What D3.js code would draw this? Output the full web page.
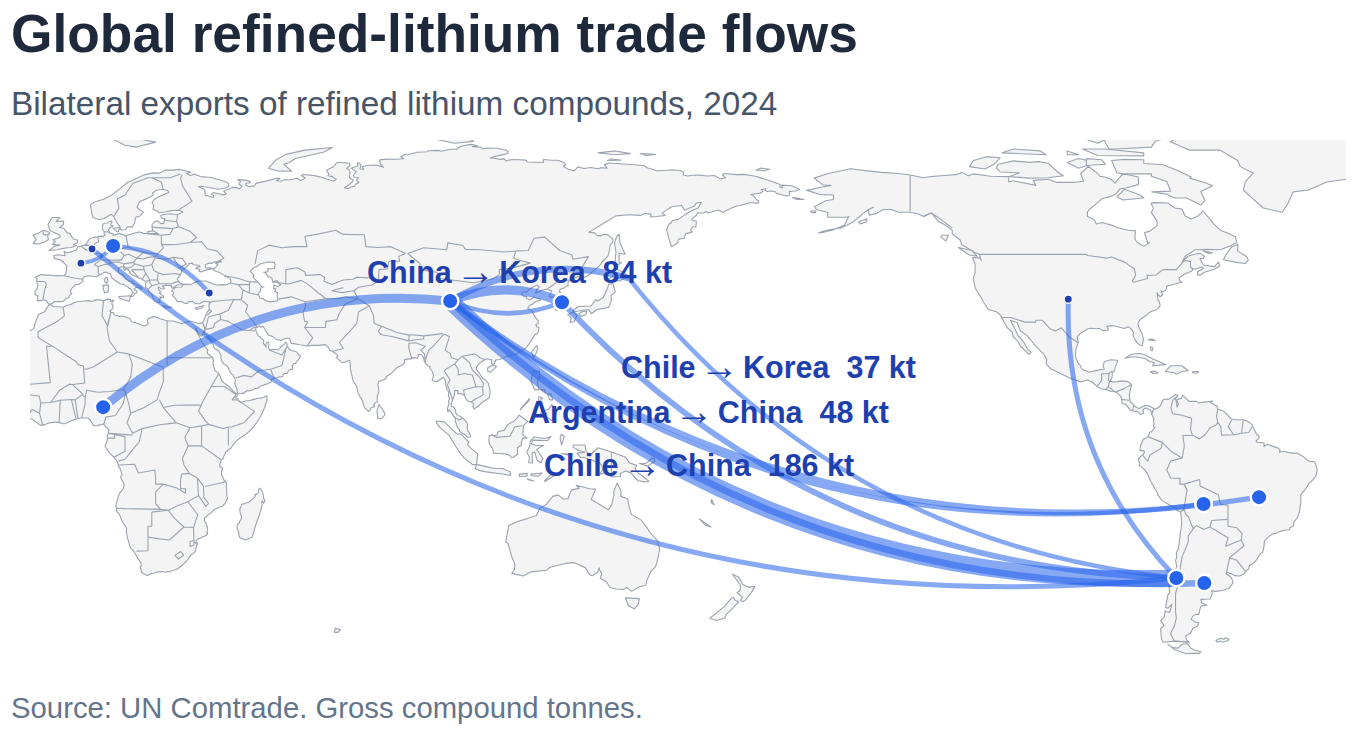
<!DOCTYPE html>
<html>
<head>
<meta charset="utf-8">
<script src="https://cdn.jsdelivr.net/npm/d3@7"></script>
<style>
  html, body { margin: 0; padding: 0; background: #fff; }
  text { font-family: "Liberation Sans", Arial, Helvetica, sans-serif; }
</style>
</head>
<body>
<div id="chart"></div>
<script>
// trade nodes, lon/lat
var nodes = [
  { name: 'Chile', lon: -71.5, lat: -35.5 },
  { name: 'Argentina', lon: -64.2, lat: -36.8 },
  { name: 'Bolivia', lon: -64.4, lat: -16.2 },
  { name: 'Brazil', lon: -49.9, lat: -14.4 },
  { name: 'USA', lon: -99.7, lat: 37.3 },
  { name: 'China', lon: 98.9, lat: 36.8 },
  { name: 'Korea', lon: 128.1, lat: 36.5 },
  { name: 'Japan', lon: 145.5, lat: 42.8 },
  { name: 'Nigeria', lon: 8.3, lat: 9.1 },
  { name: 'Germany', lon: 10.9, lat: 51.2 },
  { name: 'Belgium', lon: 5.4, lat: 50.4 },
  { name: 'France', lon: 2.5, lat: 46.7 },
  { name: 'Turkey', lon: 36, lat: 38.9 }
];

// kt, only the four labelled ones are printed in the picture
var flows = [
  ['Chile', 'China', 186],
  ['China', 'Korea', 84],
  ['Nigeria', 'China', 80],
  ['Argentina', 'China', 48],
  ['Chile', 'Korea', 37],
  ['China', 'Japan', 47],
  ['Brazil', 'China', 33],
  ['Chile', 'USA', 27],
  ['Bolivia', 'China', 20],
  ['Chile', 'Belgium', 27],
  ['Germany', 'Turkey', 20],
  ['Korea', 'China', 20],
  ['Chile', 'Japan', 20],
  ['Germany', 'France', 13]
];

var labelledFlows = ['China-Korea', 'Chile-Korea', 'Argentina-China', 'Chile-China'];

var titleText = 'Global refined-lithium trade flows';
var subtitleText = 'Bilateral exports of refined lithium compounds, 2024';
var sourceText = 'Source: UN Comtrade. Gross compound tonnes.';

// coastlines, lon/lat, hand simplified
var africa = [[-5.9,35.8],[-5.2,35.8],[-4.6,35.3],[-3,35.3],[-2.2,35.2],[-1.2,35.7],[-0.1,35.9],[0.5,36.3],[1.5,36.6],[3.2,36.8],[4.8,36.9],[5.3,36.7],[6.3,37.1],[7.3,37.1],[8.4,36.9],[9.5,37.3],[10.2,37.2],[10.2,36.7],[11,37.1],[11.1,36.9],[10.6,36.4],[10.6,35.9],[10.9,35.7],[10.8,34.8],[10.1,34.3],[10.3,33.8],[10.9,33.8],[11.1,33.3],[11.5,33.1],[12.7,32.8],[13.3,32.9],[15.2,32.3],[15.7,31.4],[17.5,30.9],[19,30.3],[19.6,30.5],[20.1,31],[19.8,31.8],[20.1,32.2],[21.5,32.8],[23.2,32.2],[25.2,31.6],[26.5,31.6],[28.9,30.9],[29.7,31.2],[30.9,31.6],[32.3,31.26],[33,31.02],[33.77,30.97],[34.27,31.22],[34.92,29.5],[34.64,29.1],[34.43,28.34],[34.15,27.82],[33.92,27.65],[33.59,27.97],[33.14,28.42],[32.42,29.85],[32.32,29.76],[32.73,28.71],[33.35,27.7],[34.1,26.14],[34.47,25.6],[34.8,25.03],[35.69,23.93],[35.49,23.81],[35.53,23.1],[36.69,22.2],[36.87,22],[37.19,21.02],[36.97,20.84],[37.11,19.81],[37.48,18.61],[37.86,18.37],[38.41,17.99],[38.99,16.84],[39.27,15.92],[39.81,15.44],[41.18,14.49],[42.59,13],[43.08,12.7],[43.32,12.39],[43.29,11.97],[42.72,11.74],[43.15,11.46],[43.47,11.28],[43.67,10.86],[44.12,10.45],[44.61,10.44],[45.56,10.7],[46.65,10.82],[47.53,11.13],[48.02,11.19],[48.38,11.38],[48.95,11.41],[49.27,11.43],[49.73,11.58],[50.26,11.68],[50.73,12.02],[51.11,12.02],[51.13,11.75],[51.04,11.17],[51.05,10.64],[50.83,10.28],[50.55,9.2],[50.07,8.08],[49.45,6.8],[48.59,5.34],[47.74,4.22],[46.56,2.86],[45.56,2.05],[44.07,1.05],[43.14,0.29],[42.04,-0.92],[41.81,-1.45],[41.59,-1.68],[40.88,-2.08],[40.64,-2.5],[40.26,-2.57],[40.12,-3.28],[39.8,-3.68],[39.6,-4.35],[39.2,-4.68],[38.74,-5.91],[38.8,-6.48],[39.44,-6.84],[39.47,-7.1],[39.19,-7.7],[39.25,-8.01],[39.19,-8.49],[39.54,-9.11],[39.95,-10.1],[40.32,-10.32],[40.48,-10.77],[40.44,-11.76],[40.56,-12.64],[40.6,-14.2],[40.78,-14.69],[40.48,-15.41],[40.09,-16.1],[39.45,-16.72],[38.54,-17.1],[37.41,-17.59],[36.28,-18.66],[35.9,-18.84],[35.2,-19.55],[34.79,-19.78],[34.7,-20.5],[35.18,-21.25],[35.37,-21.84],[35.39,-22.14],[35.56,-22.09],[35.53,-23.07],[35.37,-23.54],[35.61,-23.71],[35.46,-24.12],[35.04,-24.48],[34.22,-24.82],[33.01,-25.36],[32.57,-25.73],[32.66,-26.15],[32.92,-26.22],[32.83,-26.74],[32.58,-27.47],[32.46,-28.3],[32.2,-28.75],[31.33,-29.4],[30.9,-29.91],[30.62,-30.42],[30.06,-31.14],[28.93,-32.17],[28.22,-32.77],[27.46,-33.23],[26.42,-33.61],[25.91,-33.67],[25.78,-33.94],[25.17,-33.8],[24.68,-33.99],[23.59,-33.79],[22.99,-33.92],[22.57,-33.86],[21.54,-34.26],[20.69,-34.42],[20.07,-34.8],[19.62,-34.82],[19.19,-34.46],[18.86,-34.44],[18.42,-33.99],[18.38,-34.14],[18.24,-33.87],[18.25,-33.28],[17.93,-32.61],[18.25,-32.43],[18.22,-31.66],[17.57,-30.73],[17.06,-29.88],[16.34,-28.58],[15.6,-27.82],[15.21,-27.09],[14.99,-26.12],[14.74,-25.39],[14.41,-23.85],[14.39,-22.66],[14.26,-22.11],[13.87,-21.7],[13.35,-20.87],[12.83,-19.67],[12.61,-19.05],[11.79,-18.07],[11.73,-17.3],[11.64,-16.67],[11.78,-15.79],[12.12,-14.88],[12.18,-14.45],[12.5,-13.55],[12.74,-13.14],[13.31,-12.48],[13.63,-12.04],[13.74,-11.3],[13.69,-10.73],[13.39,-10.37],[13.12,-9.77],[12.88,-9.17],[12.93,-8.96],[13.24,-8.56],[12.93,-7.6],[12.73,-6.93],[12.23,-6.29],[12.32,-6.1],[12.18,-5.79],[11.91,-5.04],[11.09,-3.98],[10.07,-2.97],[9.41,-2.14],[8.8,-1.11],[8.83,-0.78],[9.05,-0.46],[9.29,0.27],[9.49,1.01],[9.31,1.16],[9.65,2.28],[9.8,3.07],[9.4,3.73],[8.95,3.9],[8.74,4.35],[8.49,4.5],[8.5,4.77],[7.46,4.41],[7.08,4.46],[6.7,4.24],[5.9,4.26],[5.36,4.89],[5.03,5.61],[4.33,6.27],[3.57,6.26],[2.69,6.26],[1.87,6.14],[1.06,5.93],[-0.51,5.34],[-1.06,5],[-1.96,4.71],[-2.86,5],[-4.01,5.18],[-4.65,5.17],[-5.83,4.99],[-6.53,4.71],[-7.52,4.34],[-7.97,4.36],[-9,5],[-10,5.8],[-10.77,6.14],[-11.44,6.79],[-12.43,7.26],[-13.12,8.16],[-13.25,8.9],[-14,9.9],[-14.6,10.5],[-15.13,11.04],[-16.1,11.5],[-16.6,12.2],[-16.84,13.15],[-17.5,14.7],[-16.5,16.1],[-16.3,17.2],[-16,18.5],[-16.3,19.1],[-17,21],[-16,23.7],[-14.5,26.2],[-13.1,27.6],[-11.4,28.8],[-9.8,29.6],[-9.5,30.9],[-8.6,33.3],[-6.9,34.1]];
var madagascar = [[49.54,-12.47],[49.81,-12.9],[50.06,-13.56],[50.22,-14.76],[50.48,-15.23],[50.38,-15.71],[50.2,-16],[49.86,-15.41],[49.67,-15.71],[49.86,-16.45],[49.61,-17.1],[49.44,-17.95],[49.04,-19.12],[48.55,-20.5],[47.93,-22.39],[47.55,-23.78],[47.1,-24.94],[46.28,-25.18],[45.41,-25.6],[44.83,-25.35],[44.04,-24.99],[43.76,-24.46],[43.7,-23.57],[43.35,-22.78],[43.25,-22.06],[43.43,-21.34],[43.89,-21.16],[43.9,-20.83],[44.37,-20.07],[44.46,-19.44],[44.23,-19],[44.04,-18.33],[43.96,-17.41],[44.31,-16.85],[44.45,-16.22],[44.94,-16.18],[45.5,-15.97],[45.87,-15.79],[46.31,-15.78],[46.88,-15.21],[47.71,-14.59],[48.01,-14.09],[47.87,-13.66],[48.29,-13.78],[48.85,-13.09],[48.86,-12.49],[49.19,-12.04]];
var eurasia = [[34.27,31.22],[34.55,31.55],[34.96,32.83],[35.1,33.1],[35.48,33.9],[36,34.64],[35.9,35.41],[35.99,35.98],[36.15,36.65],[35.55,36.57],[34.71,36.8],[33.51,36.11],[32.51,36.11],[31.7,36.64],[30.62,36.68],[30.39,36.26],[29.7,36.14],[28.73,36.68],[27.64,36.66],[27.05,37.65],[26.32,38.21],[26.8,38.99],[26.17,39.46],[27.28,40.42],[28.82,40.46],[29.24,41.22],[31.15,41.09],[32.35,41.74],[33.51,42.02],[35.17,42.04],[36.91,41.34],[38.35,40.95],[39.51,41.1],[40.37,41.01],[41.55,41.54],[41.7,41.96],[41.45,42.65],[40.88,43.01],[40.32,43.13],[39.96,43.43],[38.68,44.28],[37.54,44.66],[36.68,45.24],[37.4,45.4],[38.23,46.24],[37.67,46.64],[39.15,47.04],[39.12,47.26],[38.22,47.1],[37.43,47.02],[36.76,46.7],[35.82,46.65],[34.96,46.27],[35.02,45.65],[35.51,45.41],[36.53,45.47],[36.33,45.11],[35.24,44.94],[33.88,44.36],[33.33,44.56],[33.55,45.03],[32.45,45.33],[32.63,45.52],[33.59,45.85],[33.3,46.08],[31.74,46.33],[31.68,46.71],[30.75,46.58],[30.38,46.03],[29.6,45.29],[29.63,45.04],[28.84,44.91],[28.56,43.71],[27.67,42.58],[27.99,42.01],[28.12,41.62],[28.99,41.3],[28.81,41.05],[27.62,41],[27.19,40.69],[26.36,40.15],[26.04,40.62],[26.06,40.82],[25.45,40.85],[24.93,40.95],[23.71,40.69],[24.41,40.12],[23.9,39.96],[23.34,39.96],[22.81,40.48],[22.63,40.26],[22.85,39.66],[23.35,39.19],[22.97,38.97],[23.53,38.51],[24.03,38.22],[24.04,37.66],[23.12,37.92],[23.41,37.41],[22.77,37.31],[23.15,36.42],[22.49,36.41],[21.67,36.84],[21.3,37.64],[21.12,38.31],[20.73,38.77],[20.22,39.34],[20.15,39.62],[19.98,39.69],[19.96,40.03],[19.41,40.25],[19.32,40.73],[19.41,41.41],[19.54,41.72],[19.37,41.88],[18.45,42.48],[17.51,42.85],[16.93,43.21],[16.02,43.51],[15.17,44.24],[15.38,44.32],[14.92,44.74],[14.9,45.08],[14.26,45.23],[13.95,44.8],[13.66,45.14],[13.68,45.48],[13.72,45.5],[13.94,45.59],[13.14,45.74],[12.33,45.38],[12.26,44.6],[12.59,44.09],[13.53,43.59],[14.03,42.76],[15.14,41.96],[15.93,41.96],[16.17,41.74],[15.89,41.54],[16.79,41.18],[17.52,40.88],[18.38,40.36],[18.48,40.17],[18.29,39.81],[17.74,40.28],[16.87,40.44],[16.45,39.8],[17.17,39.42],[17.05,38.9],[16.64,38.84],[16.1,37.99],[15.68,37.91],[15.69,38.21],[15.89,38.75],[16.11,38.96],[15.72,39.54],[15.41,40.05],[14.99,40.17],[14.7,40.6],[14.06,40.79],[13.63,41.19],[12.89,41.25],[12.11,41.7],[11.19,42.36],[10.51,42.93],[10.2,43.92],[9.7,44.04],[8.89,44.37],[8.43,44.23],[7.85,43.77],[7.44,43.69],[6.53,43.13],[4.56,43.4],[3.1,43.08],[2.99,42.47],[3.04,41.89],[2.09,41.23],[0.81,41.01],[0.72,40.68],[0.11,40.12],[-0.28,39.31],[0.11,38.74],[-0.47,38.29],[-0.68,37.64],[-1.44,37.44],[-2.15,36.67],[-3.42,36.66],[-4.37,36.68],[-5.38,35.95],[-5.87,36.03],[-6.24,36.37],[-6.52,36.94],[-7.45,37.1],[-7.86,36.84],[-8.38,36.98],[-8.9,36.87],[-8.75,37.65],[-8.84,38.27],[-9.29,38.36],[-9.53,38.74],[-9.45,39.39],[-9.05,39.76],[-8.98,40.16],[-8.77,40.76],[-8.79,41.18],[-8.99,41.54],[-9.03,41.88],[-8.98,42.59],[-9.39,43.03],[-7.98,43.75],[-6.75,43.57],[-5.41,43.57],[-4.35,43.4],[-3.52,43.46],[-1.9,43.42],[-1.38,44.02],[-1.19,46.01],[-2.23,47.06],[-2.96,47.57],[-4.49,47.95],[-4.59,48.68],[-3.3,48.9],[-1.62,48.64],[-1.93,49.78],[-0.99,49.35],[1.34,50.13],[1.64,50.95],[2.51,51.15],[3.31,51.35],[3.83,51.62],[4.71,53.09],[6.07,53.51],[6.91,53.48],[7.1,53.69],[7.94,53.75],[8.12,53.53],[8.8,54.02],[8.57,54.4],[8.53,54.96],[8.12,55.52],[8.09,56.54],[8.26,56.81],[8.54,57.11],[9.42,57.17],[9.94,57.59],[10.58,57.73],[10.55,57.22],[10.25,56.89],[10.37,56.61],[10.91,56.46],[10.67,56.08],[10.37,56.19],[9.65,55.47],[9.92,54.98],[9.94,54.6],[10.95,54.36],[10.94,54.01],[11.96,54.2],[12.52,54.47],[13.65,54.08],[14.12,53.76],[14.8,54.05],[16.36,54.51],[17.62,54.85],[18.62,54.68],[18.7,54.44],[19.66,54.43],[19.89,54.87],[21.27,55.19],[21.06,56.03],[21.09,56.78],[21.58,57.41],[22.52,57.75],[23.32,57.01],[24.12,57.03],[24.31,57.79],[24.43,58.38],[24.06,58.26],[23.43,58.61],[23.34,59.19],[24.6,59.47],[25.86,59.61],[26.95,59.45],[27.98,59.48],[29.12,60.03],[28.07,60.5],[26.26,60.42],[24.5,60.06],[22.87,59.85],[22.29,60.39],[21.32,60.72],[21.54,61.71],[21.06,62.61],[21.54,63.19],[22.44,63.82],[24.73,64.9],[25.4,65.11],[25.29,65.53],[23.9,66.01],[22.18,65.72],[21.21,65.03],[21.37,64.41],[19.78,63.61],[17.85,62.75],[17.12,61.34],[17.83,60.64],[18.79,60.08],[17.87,58.95],[16.83,58.72],[16.45,57.04],[15.88,56.1],[14.67,56.2],[14.1,55.41],[12.94,55.36],[12.63,56.31],[11.79,57.44],[11.03,58.86],[10.36,59.47],[8.38,58.31],[7.05,58.08],[5.67,58.59],[5.31,59.66],[4.99,61.97],[5.91,62.61],[8.55,63.45],[10.53,64.49],[12.36,65.88],[14.76,67.81],[16.44,68.56],[19.18,69.82],[21.38,70.26],[23.02,70.2],[24.55,71.03],[26.37,70.99],[28.17,71.19],[31.29,70.45],[30,70.19],[31.1,69.56],[32.13,69.91],[33.78,69.3],[36.51,69.06],[40.29,67.93],[41.06,67.46],[41.13,66.79],[40.02,66.27],[38.38,66],[33.92,66.76],[33.18,66.63],[34.81,65.9],[34.88,65.44],[34.94,64.41],[36.23,64.11],[37.01,63.85],[37.14,64.33],[36.54,64.76],[37.18,65.14],[39.59,64.52],[40.44,64.76],[39.76,65.5],[42.09,66.48],[43.02,66.42],[43.95,66.07],[44.53,66.76],[43.7,67.35],[44.19,67.95],[43.45,68.57],[46.25,68.25],[46.82,67.69],[45.56,67.57],[45.56,67.01],[46.35,66.67],[47.89,66.88],[48.14,67.52],[50.23,67.99],[53.72,68.86],[54.47,68.81],[53.49,68.2],[54.73,68.1],[55.44,68.44],[57.32,68.47],[58.8,68.88],[59.94,68.28],[61.08,68.94],[60.03,69.52],[60.55,69.85],[63.5,69.55],[64.89,69.23],[68.51,68.09],[69.18,68.62],[68.16,69.14],[68.14,69.36],[66.93,69.45],[67.26,69.93],[66.72,70.71],[66.69,71.03],[68.54,71.93],[69.2,72.84],[69.94,73.04],[72.59,72.78],[72.8,72.22],[71.85,71.41],[72.47,71.09],[72.79,70.39],[72.56,69.02],[73.67,68.41],[73.24,67.74],[71.28,66.32],[72.42,66.17],[72.82,66.53],[73.92,66.79],[74.19,67.28],[75.05,67.76],[74.47,68.33],[74.94,68.99],[73.84,69.07],[73.6,69.63],[74.4,70.63],[73.1,71.45],[74.89,72.12],[74.66,72.83],[75.16,72.85],[75.68,72.3],[75.29,71.34],[76.36,71.15],[75.9,71.87],[77.58,72.27],[79.65,72.32],[81.5,71.75],[80.61,72.58],[80.51,73.65],[82.25,73.85],[84.66,73.81],[86.82,73.94],[86.01,74.46],[87.17,75.12],[88.32,75.14],[90.26,75.64],[92.9,75.77],[93.23,76.05],[95.86,76.14],[96.68,75.92],[98.92,76.45],[100.76,76.43],[101.04,76.86],[101.99,77.29],[104.35,77.7],[106.07,77.37],[104.71,77.13],[106.97,76.97],[107.24,76.48],[108.15,76.72],[111.08,76.71],[113.33,76.22],[114.13,75.85],[113.89,75.33],[112.78,75.03],[110.15,74.48],[109.4,74.18],[110.64,74.04],[112.12,73.79],[113.02,73.98],[113.53,73.34],[113.97,73.59],[115.57,73.75],[118.78,73.59],[119.02,73.12],[123.2,72.97],[123.26,73.74],[125.38,73.56],[126.98,73.57],[128.59,73.04],[129.05,72.4],[128.46,71.98],[129.72,71.19],[131.29,70.79],[132.25,71.84],[133.86,71.39],[135.56,71.66],[137.5,71.35],[138.23,71.63],[139.87,71.49],[139.15,72.42],[140.47,72.85],[145,72.5],[149.5,72.2],[150.35,71.61],[152.97,70.84],[157.01,71.03],[158.99,70.87],[159.83,70.45],[159.71,69.72],[160.94,69.44],[162.28,69.64],[164.05,69.67],[165.94,69.47],[167.84,69.58],[169.58,68.69],[170.82,69.01],[170.01,69.65],[170.45,70.1],[173.64,69.82],[175.72,69.88],[178.6,69.4],[180,68.96],[-177.6,68.2],[-174.93,67.21],[-175.01,66.58],[-174.34,66.34],[-174.57,67.06],[-171.86,66.91],[-169.9,65.98],[-170.89,65.54],[-172.53,65.44],[-172.56,64.46],[-172.96,64.25],[-173.89,64.28],[-174.65,64.63],[-175.98,64.92],[-176.21,65.36],[-177.22,65.52],[-178.36,65.39],[-178.9,65.74],[-178.69,66.11],[-179.88,65.87],[-179.43,65.4],[-180,64.98],[177.41,64.61],[178.31,64.08],[178.91,63.25],[179.37,62.98],[179.49,62.57],[179.23,62.3],[177.36,62.52],[174.57,61.77],[173.68,61.65],[172.15,60.95],[170.7,60.34],[170.33,59.88],[168.9,60.57],[166.3,59.79],[165.84,60.16],[164.88,59.73],[163.54,59.87],[163.22,59.21],[162.02,58.24],[162.05,57.84],[163.19,57.62],[163.06,56.16],[162.13,56.12],[161.7,55.29],[162.12,54.86],[160.37,54.34],[160.02,53.2],[158.53,52.96],[158.23,51.94],[156.79,51.01],[156.42,51.7],[155.99,53.16],[155.43,55.38],[155.91,56.77],[156.76,57.36],[156.81,57.83],[158.36,58.06],[160.15,59.31],[161.87,60.34],[163.67,61.14],[164.47,62.55],[163.26,62.47],[162.66,61.64],[160.12,60.54],[159.3,61.77],[156.72,61.43],[154.22,59.76],[155.04,59.14],[152.81,58.88],[151.27,58.78],[151.34,59.5],[149.78,59.66],[148.54,59.16],[145.49,59.34],[142.2,59.04],[138.96,57.09],[135.13,54.73],[136.7,54.6],[137.19,53.98],[138.16,53.75],[138.8,54.25],[139.9,54.19],[141.35,53.09],[141.38,52.24],[140.6,51.24],[140.51,50.05],[140.06,48.45],[138.55,47],[138.22,46.31],[136.86,45.14],[135.52,43.99],[134.87,43.4],[133.54,42.81],[132.91,42.8],[132.28,43.28],[130.94,42.55],[130.64,42.4],[129.99,42],[129.67,41.6],[129.71,40.88],[129.19,40.66],[129.01,40.49],[128.63,40.19],[127.97,40],[127.53,39.76],[127.5,39.32],[127.39,39.21],[127.78,39.05],[128.35,38.61],[129.21,37.43],[129.46,36.78],[129.47,35.63],[129.09,35.08],[128.19,34.89],[127.39,34.48],[126.49,34.39],[126.37,34.93],[126.56,35.68],[126.12,36.73],[126.86,36.89],[126.17,37.75],[125.69,37.94],[125.28,37.67],[124.98,37.95],[124.71,38.11],[125.22,38.67],[125.13,38.85],[125.39,39.39],[125.32,39.55],[124.74,39.66],[124.27,39.93],[122.87,39.64],[122.13,39.17],[121.05,38.9],[121.59,39.36],[121.38,39.75],[122.17,40.42],[121.64,40.95],[120.77,40.59],[119.64,39.9],[119.02,39.25],[118.04,39.2],[117.53,38.74],[118.06,38.06],[118.88,37.9],[118.91,37.45],[119.7,37.16],[120.82,37.87],[121.71,37.48],[122.36,37.45],[122.52,36.93],[121.1,36.65],[120.64,36.11],[119.66,35.61],[119.15,34.91],[120.23,34.36],[120.62,33.38],[121.23,32.46],[121.91,31.69],[121.89,30.95],[121.26,30.68],[121.5,30.14],[122.09,29.83],[121.94,29.02],[121.68,28.23],[121.13,28.14],[120.4,27.05],[119.59,25.74],[118.66,24.55],[117.28,23.62],[115.89,22.78],[114.76,22.67],[114.15,22.22],[113.81,22.55],[113.24,22.05],[111.84,21.55],[110.79,21.4],[110.44,20.34],[109.89,20.28],[109.63,21.01],[109.86,21.4],[108.52,21.72],[108.05,21.55],[106.72,20.7],[105.88,19.75],[105.66,19.06],[106.5,18],[107.36,16.7],[108.27,16.08],[108.88,15.28],[109.34,13.43],[109.2,11.67],[108.37,11.01],[107.22,10.36],[106.41,9.53],[105.16,8.6],[104.8,9.24],[105.08,9.92],[104.33,10.49],[103.5,10.63],[103.09,11.15],[102.59,12.19],[101.69,12.65],[100.83,12.63],[100.98,13.41],[100.1,13.41],[100.02,12.31],[99.48,10.85],[99.15,9.96],[99.22,9.24],[99.87,9.21],[100.28,8.3],[100.46,7.43],[101.02,6.86],[101.62,6.74],[102.14,6.22],[102.37,6.13],[102.96,5.52],[103.38,4.85],[103.44,4.18],[103.33,3.73],[103.43,3.38],[103.5,2.79],[103.86,2.52],[104.25,1.63],[104.23,1.29],[103.52,1.23],[102.57,1.97],[101.39,2.76],[101.27,3.27],[100.69,3.94],[100.56,4.77],[100.2,5.31],[100.31,6.04],[100.09,6.46],[99.69,6.85],[99.52,7.34],[98.99,7.91],[98.5,8.38],[98.34,7.79],[98.15,8.35],[98.26,8.97],[98.55,9.93],[98.46,10.68],[98.76,11.44],[98.43,12.03],[98.51,13.12],[98.1,13.64],[97.78,14.84],[97.6,16.1],[97.16,16.93],[96.51,16.43],[95.37,15.71],[94.81,15.8],[94.19,16.04],[94.53,17.28],[94.32,18.21],[93.54,19.37],[93.66,19.73],[93.08,19.86],[92.37,20.67],[92.08,21.19],[92.03,21.7],[91.83,22.18],[91.42,22.77],[90.5,22.81],[90.59,22.39],[90.27,21.84],[89.85,22.04],[89.7,21.86],[89.42,21.97],[89.03,22.06],[88.89,21.69],[88.21,21.7],[86.98,21.5],[87.03,20.74],[86.5,20.15],[85.06,19.48],[83.94,18.3],[83.19,17.67],[82.19,17.02],[82.19,16.56],[81.69,16.31],[80.79,15.95],[80.32,15.9],[80.03,15.14],[80.23,13.84],[80.29,13.01],[79.86,12.06],[79.86,10.36],[79.34,10.31],[78.89,9.55],[79.19,9.22],[78.28,8.93],[77.94,8.25],[77.54,7.97],[76.59,8.9],[76.13,10.3],[75.75,11.31],[75.4,11.78],[74.86,12.74],[74.62,13.99],[74.44,14.62],[73.53,15.99],[73.12,17.93],[72.82,19.21],[72.82,20.42],[72.63,21.36],[71.18,20.76],[70.47,20.88],[69.16,22.09],[69.64,22.45],[69.35,22.84],[68.18,23.69],[67.44,23.94],[67.15,24.66],[66.37,25.43],[64.53,25.24],[62.91,25.22],[61.5,25.08],[59.62,25.38],[58.53,25.61],[57.4,25.74],[56.97,26.97],[56.49,27.14],[55.72,26.96],[54.72,26.48],[53.49,26.81],[52.48,27.58],[51.52,27.87],[50.85,28.81],[50.12,30.15],[49.58,29.99],[48.94,30.32],[48.57,29.93],[47.97,29.98],[48.18,29.53],[48.09,29.31],[48.42,28.55],[48.81,27.69],[49.3,27.46],[49.47,27.11],[50.15,26.69],[50.21,26.28],[50.11,25.94],[50.24,25.61],[50.53,25.33],[50.81,24.75],[50.74,25.48],[51.01,26.01],[51.29,26.11],[51.59,25.8],[51.61,25.22],[51.39,24.63],[51.58,24.25],[51.76,24.29],[51.79,24.02],[52.58,24.18],[53.4,24.15],[54.01,24.12],[54.69,24.8],[55.44,25.44],[56.07,26.06],[56.26,25.71],[56.4,24.92],[56.85,24.24],[57.4,23.88],[58.14,23.75],[58.73,23.57],[59.18,22.99],[59.45,22.66],[59.81,22.53],[59.81,22.31],[59.44,21.71],[59.28,21.43],[58.86,21.11],[58.49,20.43],[58.03,20.48],[57.83,20.24],[57.67,19.74],[57.79,19.07],[57.69,18.94],[57.23,18.95],[56.61,18.57],[56.51,18.09],[56.28,17.88],[55.66,17.88],[55.27,17.63],[55.27,17.23],[54.79,16.95],[54.24,17.04],[53.57,16.71],[53.11,16.65],[52.39,16.38],[52.19,15.94],[52.17,15.6],[51.17,15.18],[49.57,14.71],[48.68,14],[48.24,13.95],[47.94,14.01],[47.35,13.59],[46.72,13.4],[45.88,13.35],[45.63,13.29],[45.41,13.03],[45.14,12.95],[44.99,12.7],[44.49,12.72],[44.18,12.59],[43.48,12.64],[43.22,13.22],[43.25,13.77],[43.09,14.06],[42.89,14.8],[42.6,15.21],[42.81,15.26],[42.7,15.72],[42.82,15.91],[42.78,16.35],[42.65,16.77],[42.35,17.08],[42.27,17.47],[41.75,17.83],[41.22,18.67],[40.94,19.49],[40.25,20.17],[39.8,20.34],[39.14,21.29],[39.02,21.99],[39.07,22.58],[38.49,23.69],[38.02,24.08],[37.48,24.29],[37.15,24.86],[37.21,25.08],[36.93,25.6],[36.64,25.83],[36.25,26.57],[35.64,27.38],[35.13,28.06],[34.63,28.06],[34.79,28.61],[34.83,28.96],[34.96,29.36],[34.92,29.5]];
var northAmerica = [[-77.35,8.67],[-78.2,9.25],[-79.57,9.61],[-80.93,8.86],[-81.44,8.79],[-82.19,9.21],[-82.56,9.57],[-83.41,10.4],[-83.67,10.94],[-83.65,11.63],[-83.81,12],[-83.52,13.57],[-83.15,14.99],[-83.41,15.27],[-84.37,15.84],[-85.68,15.95],[-86.9,15.76],[-88.12,15.69],[-88.93,15.89],[-88.36,16.53],[-88.21,17.49],[-88.29,18.35],[-87.84,18.26],[-87.44,19.47],[-86.93,20.85],[-86.82,21.33],[-88.54,21.49],[-90.28,21],[-90.65,19.87],[-90.28,19],[-91.41,18.88],[-92.23,18.71],[-93.55,18.42],[-94.17,18.2],[-94.84,18.56],[-95.9,18.83],[-96.29,19.32],[-96.52,19.89],[-97.19,20.64],[-97.67,21.9],[-97.87,22.44],[-97.7,24.27],[-97.14,25.87],[-97.37,27.38],[-96.59,28.31],[-94.69,29.48],[-93.85,29.71],[-92.5,29.55],[-91.63,29.68],[-90.88,29.15],[-89.41,29.16],[-89.22,29.29],[-89.4,29.89],[-89.6,30.18],[-88.42,30.38],[-87.53,30.27],[-85.11,29.64],[-84,30.1],[-82.99,29.18],[-82.66,28.55],[-82.85,27.89],[-82.28,26.73],[-81.71,25.87],[-80.94,25.26],[-80.38,25.21],[-80.06,26.88],[-80.53,28.47],[-81.31,30.04],[-81.49,30.73],[-81.31,31.44],[-80.86,32.03],[-79.2,33.16],[-78.55,33.86],[-76.54,34.6],[-75.73,35.55],[-75.94,36.72],[-76.27,36.96],[-76.35,38],[-76.54,39],[-76,38.2],[-75.72,37.94],[-75.04,38.45],[-75.53,39.5],[-74.98,39.2],[-74.18,39.71],[-74.02,40.47],[-73.95,40.75],[-72.24,41.12],[-71,41.5],[-70,41.7],[-70.64,42.08],[-70.81,42.87],[-69.06,43.98],[-67.5,44.6],[-67.14,45.14],[-66,45.3],[-64.9,45.7],[-64.5,45.3],[-66,44.4],[-66,43.7],[-65.3,43.5],[-64,44.4],[-61.5,45.1],[-60.2,46],[-60.5,47],[-61.5,45.8],[-64.4,46.2],[-64.9,47],[-65.3,47.9],[-64.5,47.9],[-64.2,48.5],[-65.1,49.2],[-66.5,49.1],[-68.5,48.5],[-70,47],[-69.1,48.6],[-66.5,50.2],[-63.5,50.3],[-60,50.2],[-57,51.4],[-55.7,52.1],[-56.1,53.6],[-58,54.5],[-60,55.3],[-61.8,57],[-62.5,58],[-64.6,60.3],[-65.9,59],[-67.6,58.2],[-69.2,59],[-70,60.8],[-71.9,61.1],[-73.7,62.4],[-77.4,62.5],[-78.1,62.3],[-77.5,61],[-78,59.9],[-76.5,57.6],[-76.6,56.5],[-78.5,55],[-79.8,54.7],[-79,52],[-78.5,52],[-79.8,51.2],[-80.4,51.3],[-81.7,52.1],[-82.3,53],[-82.2,55.2],[-84,55.3],[-87,56],[-88,56.5],[-90.9,57.3],[-92.4,56.9],[-92.9,58],[-94.7,58.9],[-94.7,60.1],[-93.9,61],[-92.5,62.1],[-90.8,63.6],[-89,64],[-87.4,64.6],[-86.2,66.1],[-84.7,66.3],[-81.4,67.2],[-81.4,69.2],[-84.1,69.8],[-85.6,69.9],[-87.5,67.6],[-88.5,68.6],[-90.2,69.2],[-91.5,69.4],[-91.9,70],[-94.5,72],[-95.5,71],[-96.5,70.1],[-95.7,68.1],[-98,67.8],[-99.8,67.8],[-102.8,67.8],[-105,68.6],[-108.8,68.3],[-108.2,67],[-114,68.2],[-115.3,67.9],[-115.2,69.3],[-120,69.4],[-124.4,70],[-125.8,69.5],[-127.5,70.4],[-129,69.8],[-133,69.5],[-135.6,69.3],[-137.5,69],[-141,69.7],[-144,70.1],[-148.5,70.4],[-152.2,70.8],[-156.6,71.35],[-159,70.8],[-162.4,70.1],[-166.1,68.9],[-163.7,67.1],[-161.7,67],[-164,66.6],[-168,65.7],[-164.5,64.6],[-161,64.5],[-161,63.3],[-163.1,63],[-165.2,61.8],[-166,61.5],[-165.5,60.7],[-162.5,59.9],[-162.5,58.7],[-157.6,58.7],[-157,58.9],[-158.2,56.6],[-161,55.4],[-163.8,54.7],[-164.9,54.6],[-162.9,55.3],[-159,55.9],[-156,57.4],[-154.2,58.8],[-153.5,59.5],[-151.8,60.7],[-150.6,61.3],[-151.9,60.7],[-151.7,59.2],[-149.7,59.7],[-148,60.7],[-146,60.7],[-144,60],[-141,60],[-139,59.6],[-137.5,58.9],[-135.5,59.8],[-133.5,57.5],[-131.7,56.6],[-130,55.3],[-130,54.3],[-128,52.8],[-127.5,51.5],[-125.6,50.4],[-124,49.4],[-122.9,49],[-122.6,47.9],[-122.4,47.4],[-122.8,48],[-124.7,48.2],[-124,46.3],[-124.1,44],[-124.5,42.8],[-124.2,41.1],[-123.8,39.8],[-122.5,37.8],[-121.9,36.6],[-120.6,34.6],[-118.5,34],[-117.3,33],[-117.1,32.5],[-115.7,29.9],[-114.3,28.6],[-114.1,27.5],[-112.8,26.2],[-112.2,25],[-110,22.9],[-109.4,23.4],[-110.3,24.2],[-111.3,26],[-112.8,27.8],[-113.9,30],[-114.8,31.7],[-113.1,31.2],[-112.2,29],[-110.6,27.9],[-109.4,26.5],[-108.4,25.2],[-106,22.8],[-105.3,21.5],[-105.5,20.4],[-104.3,19.1],[-102,18],[-99.5,16.8],[-96.5,15.7],[-94.7,16.2],[-93.4,15.6],[-92.2,14.5],[-91.2,13.9],[-90.1,13.7],[-89.3,13.5],[-88.5,13.2],[-87.8,13.3],[-87.6,13.1],[-87,12.9],[-86.1,12],[-85.7,11.1],[-85.7,10],[-84.7,9.9],[-83.6,8.4],[-82.9,8.1],[-81.7,8],[-80.9,7.2],[-80,7.5],[-80.3,8.3],[-79.6,8.9],[-78.5,8.4],[-78.2,8.3],[-77.9,7.2]];
var southAmerica = [[-77.35,8.67],[-76.8,8.6],[-75.7,9.4],[-74.9,11.1],[-73.4,11.2],[-71.7,12.4],[-71.1,12.1],[-71.3,11.8],[-71.9,11.4],[-71.6,10.9],[-71.3,9.1],[-71,9.9],[-71.4,11],[-70.2,11.4],[-69.9,12.2],[-68.9,11.4],[-68.2,10.6],[-66.2,10.6],[-65.7,10.2],[-64.3,10.4],[-61.9,10.7],[-62.7,10.4],[-60.9,9.4],[-60.7,8.6],[-59.1,8],[-57.1,6],[-55.9,5.8],[-54,5.8],[-52.9,5.4],[-51.8,4.6],[-50.5,1.9],[-50,1.7],[-49.9,1],[-50.7,0.2],[-50.4,-0.1],[-48.6,-0.2],[-48.6,-1.2],[-47.8,-0.6],[-44.9,-1.6],[-44.4,-2.1],[-44.6,-2.7],[-43.4,-2.4],[-41.5,-2.9],[-39.98,-2.87],[-38.5,-3.7],[-37.2,-4.8],[-36.5,-5.1],[-35.6,-5.1],[-35.2,-5.5],[-34.9,-6.7],[-34.7,-7.3],[-35.1,-9],[-35.6,-9.6],[-37,-11],[-37.7,-12.2],[-38.4,-13],[-39,-13.8],[-39,-16],[-39.3,-17.9],[-39.8,-19.6],[-40.8,-20.9],[-40.9,-21.9],[-41.8,-22.4],[-42,-22.97],[-43.1,-22.97],[-44.6,-23.4],[-45.4,-23.8],[-46.5,-24.1],[-47.6,-24.9],[-48.5,-25.9],[-48.6,-27.2],[-48.9,-28.7],[-49.6,-29.2],[-50.7,-31],[-51.6,-31.8],[-52.3,-32.2],[-52.7,-33.2],[-53.4,-33.8],[-53.8,-34.4],[-54.9,-35],[-56.2,-34.9],[-57.1,-34.4],[-58.4,-34],[-58.5,-34.4],[-57.2,-35.3],[-56.7,-36.4],[-56.8,-36.9],[-57.7,-38.2],[-59.2,-38.7],[-61.2,-39],[-62.3,-38.8],[-62.1,-39.4],[-62.3,-40.2],[-62.7,-41],[-65.1,-41.1],[-64.9,-42],[-63.5,-42.6],[-65,-42.8],[-65.3,-43.5],[-65.6,-45],[-66.5,-45],[-67.3,-45.6],[-67.6,-46.3],[-66.6,-47],[-65.6,-47.2],[-66,-48.1],[-67.2,-48.7],[-67.8,-49.9],[-69.1,-50.7],[-68.8,-51.8],[-68.1,-52.3],[-69.5,-52.1],[-71.9,-52],[-74.9,-52.3],[-75.3,-51.6],[-75.5,-50.4],[-75.6,-48.7],[-74.7,-47.9],[-75.6,-46.6],[-74.7,-45.8],[-74.4,-44.1],[-73.2,-44.5],[-72.7,-42.4],[-73.7,-43.4],[-74.3,-43.2],[-73.7,-39.9],[-73.2,-39.3],[-73.5,-37.2],[-72.6,-35.5],[-71.9,-33.9],[-71.4,-32.4],[-71.7,-30.9],[-71.4,-30.1],[-71.5,-28.9],[-70.9,-27.6],[-70.7,-25.7],[-70.4,-23.6],[-70.1,-21.4],[-70.2,-19.8],[-70.4,-18.3],[-71.4,-17.8],[-71.5,-17.4],[-73.4,-16.4],[-75.2,-15.3],[-76.4,-13.8],[-76.3,-13.5],[-77.1,-12.2],[-78.1,-10.4],[-79,-8.4],[-79.8,-7.2],[-81.2,-6.1],[-81,-5.7],[-81.4,-4.7],[-81.1,-4],[-80.3,-3.4],[-79.8,-2.7],[-80,-2.2],[-80.97,-2.25],[-80.9,-1.1],[-80.1,0.8],[-79.5,0.98],[-78.9,1.4],[-78.4,2.6],[-77.9,2.7],[-77.1,3.8],[-77.5,4.1],[-77.3,4.7],[-77.5,5.6],[-77.3,6],[-77.9,7.2]];
var australia = [[142.5,-10.7],[143.5,-12.8],[143.5,-14.2],[145.3,-14.9],[145.5,-16.3],[146.2,-18.9],[148.8,-20.4],[150.1,-22.1],[151,-23.5],[153.1,-25.9],[153.6,-28],[153,-31],[152.5,-32.6],[151.3,-33.8],[150.3,-36],[150,-37.4],[148.3,-37.8],[146.3,-39],[145,-38],[144,-38.5],[142.2,-38.4],[140.6,-38],[139.7,-36.5],[138.1,-35.6],[138.5,-34.4],[137.7,-33],[137.9,-32.9],[137.4,-34],[136,-34.9],[135.2,-34.5],[134.2,-32.8],[131.3,-31.5],[129,-31.7],[125,-32.7],[124,-33.5],[120,-33.9],[118,-35],[115,-34.3],[115.7,-33.3],[115.8,-32],[115,-30],[114,-26.5],[113.4,-26.1],[113.7,-24.5],[114.2,-21.8],[116.7,-20.7],[119,-20],[121.4,-19.2],[122.4,-17.2],[124,-16.3],[125.7,-14.2],[127.1,-13.8],[128.4,-14.9],[129.6,-14.9],[130.6,-12.5],[132.6,-12.1],[131.8,-11.3],[135.3,-12.2],[136.9,-12.3],[135.7,-15],[137.4,-16],[140.2,-17.7],[141.1,-16.4],[141.7,-13.7],[141.6,-12.9]];
var greenland = [[-73.1,78.4],[-68,76.2],[-60,76.2],[-55.5,73.5],[-54.8,71.9],[-51.4,70.2],[-53.5,68],[-54,65.8],[-51.5,63.5],[-48.8,61.1],[-43.9,60],[-42.5,62],[-41,65.3],[-37,65.8],[-32.2,67.9],[-27.2,68.6],[-22,70.5],[-20,74],[-18,76.5],[-20,80],[-30,83.5],[-50,82.5],[-62,81.8],[-70,80]];

// smaller islands
var islands = [
  [[-5,58.6],[-3,58.6],[-4,57.6],[-2,57.7],[-2.1,56.8],[-3.1,56],[-2,55.8],[-1.1,54.6],[-0.4,54.5],[0.5,53],[1.7,52.7],[1.6,52.1],[0.5,51.5],[1.4,51.3],[0,50.8],[-1,50.7],[-2.5,50.5],[-3.6,50.2],[-5.8,50],[-4.3,51.2],[-3,51.4],[-5,51.6],[-4.2,52.3],[-4.8,52.8],[-3,53.4],[-3,54],[-4.8,54.8],[-5.6,55.3],[-6.1,56.8]],
  [[-6.8,55.2],[-5.6,54.6],[-6.2,53.9],[-6,52.8],[-6.8,52.3],[-8.6,51.7],[-10,51.8],[-9.2,52.9],[-10,54],[-8.3,54.7],[-7.4,55.2]],
  [[12.4,38],[15.5,38.2],[15.1,36.7],[12.5,37.6]],
  [[8.2,40.9],[9.7,41],[9.6,39.2],[8.7,38.9],[8.4,39.8]],
  [[8.7,42.6],[9.4,43],[9.5,42],[9.2,41.4],[8.7,41.9]],
  [[23.7,35.6],[26.3,35.2],[24.7,34.9]],
  [[32.3,35],[33.7,35.4],[34.5,35.6],[33.9,34.9],[32.7,34.6]],
  [[12,54.8],[10.9,55.8],[12.6,56],[12.3,55]],
  [[15,79.7],[22,78.3],[17,77],[14,77.5],[11,79]],
  [[19,80],[27,80],[21,79]],
  [[51.5,71.5],[53.5,73.7],[56,75.1],[61,76.2],[68.2,76.9],[66,75.7],[58.5,74],[56.9,73],[55.5,72.5],[57.5,70.7],[53.7,70.8]],
  [[93,79.5],[100,81],[105,78.5],[100,78]],
  [[137.5,75.5],[142,76],[146,75.3],[142,75]],
  [[148.5,75.3],[152.5,75.1],[150,74.8]],
  [[140,73.5],[143.5,73.6],[141,73.9]],
  [[178.7,71],[180,71.5],[-177.7,71.2],[-179,70.8]],
  [[-171.7,63.8],[-170,63.6],[-168.7,63.3],[-170.5,63.3]],
  [[-167,60.3],[-165.6,60.3],[-165.7,59.9],[-166.8,59.9]],
  [[-154.5,57.5],[-152.2,58.3],[-152.6,57.4],[-154,56.9]],
  [[-155.9,20.2],[-155,19.7],[-155.6,19],[-156,19.6]],
  [[-156.6,21],[-156,20.8],[-156.4,20.6]],
  [[81.8,7.5],[81.2,8.6],[80.3,9.8],[79.8,8.2],[80,6.2],[81,6.1],[81.8,7]],
  [[108.7,19.4],[110,20.1],[111,19.7],[109.5,18.2],[108.7,18.5]],
  [[121.8,24.4],[121.2,22.8],[120.7,22],[120.1,23.5],[121.5,25.2]],
  [[141.4,41.4],[142,39.2],[140.9,38.2],[141,36.9],[140.3,35.1],[139,34.9],[137.2,34.6],[135.8,33.5],[135,34.6],[132.5,34.2],[131,34],[131,34.4],[132.5,35.4],[135.7,35.5],[136.9,37.2],[137.4,36.8],[138.9,37.8],[139.9,40],[140.3,41.2]],
  [[131,33.9],[132,33.1],[131.3,31.4],[130.2,31.2],[130.5,32.5],[129.6,33.2],[130.4,33.6]],
  [[134.6,34.2],[134.3,33.2],[133,32.8],[132.4,33.5],[133.3,34]],
  [[141.9,45.5],[144.6,43.9],[145.3,43.3],[143.2,42],[141.6,42.6],[140.3,41.6],[140,42.4],[141.4,43.3],[141.7,45]],
  [[142,45.9],[143.6,46.8],[143,47],[143,49.3],[144.6,49],[143.3,51.8],[143.2,52.7],[143,54.3],[142.4,53.7],[141.8,52],[142.2,49.5],[142,47.9]],
  [[120.6,18.5],[122.2,18.5],[122.3,17],[121.7,15.9],[122,14],[124,12.6],[123.5,13.7],[121,13.6],[120.6,14.4],[120,15.8],[120.3,17.5]],
  [[125.4,9.8],[126.3,8.8],[126.5,7.2],[125.8,6.3],[125.4,5.6],[124,6.6],[124,7.6],[122.3,7],[122.8,8],[123.8,8.3],[124.6,8.5]],
  [[125.3,12.5],[125.7,11],[124.9,11],[124.3,12.5]],
  [[122,11.8],[123.1,11.5],[122,10.5]],
  [[117.2,8.4],[119.5,10.8],[119.6,11.3],[117.6,9]],
  [[116.9,7],[119.2,5.4],[118,4.3],[117.9,1.8],[119,1],[117.9,1],[117.5,0.1],[117.5,-0.8],[116.5,-1.5],[116.5,-3.2],[115.5,-3.9],[114.9,-4.1],[114.5,-3.5],[113.3,-3.1],[111.7,-3],[111,-3],[110.2,-2.9],[110,-1.7],[109.1,-0.5],[109,0.4],[109.1,1.7],[110.4,1.7],[111.2,1.85],[111.4,2.7],[113,3.1],[114,4.6],[115.5,5.4],[116.2,6.1]],
  [[95.3,5.5],[97.5,5.2],[98.4,4.3],[100.6,2.1],[101.7,2.1],[103.1,0.6],[103.8,0],[103.4,-0.7],[104.5,-1.8],[106.1,-3.1],[105.8,-5.9],[104.7,-5.9],[102.6,-4.2],[101.4,-2.8],[100.1,-0.7],[98.6,1.8],[97.7,2.5],[96,4],[95.4,5]],
  [[105.8,-6],[106.1,-5.9],[108.5,-6.5],[110.5,-6.9],[112.6,-6.9],[114.6,-7.8],[114.6,-8.75],[113,-8.4],[108.3,-7.8],[106.4,-7.4],[105.4,-6.9]],
  [[125.2,1.4],[124.4,0.4],[123,0.4],[120.5,0.5],[120.1,-0.5],[121.5,-0.9],[123.3,-0.9],[122,-1.6],[121.5,-2],[122.4,-3.3],[123.1,-4.2],[122.6,-5.4],[121.7,-4.85],[121.5,-4.5],[121,-2.6],[120.3,-2.9],[120.4,-5.5],[119.4,-5.4],[119.6,-4],[118.9,-2.7],[119.7,-1],[119.8,0.2],[120.8,1.3],[123.5,0.9]],
  [[127.9,2],[128.7,1.5],[128,-0.8],[127.6,1]],
  [[128,-3],[130.8,-3.2],[129.5,-3.4]],
  [[120,-8.4],[122.9,-8.1],[122,-8.9],[120,-8.8]],
  [[117,-8.4],[119,-8.2],[119,-8.9],[117,-9]],
  [[123.6,-10.3],[125.1,-9.4],[127,-8.3],[125,-8.7],[123.5,-10.2]],
  [[119,-9.6],[120.7,-10.2],[119.5,-9.9]],
  [[131,-0.8],[134.1,-0.8],[134.4,-2.5],[135.5,-3.4],[137.5,-1.5],[141,-2.6],[144.6,-3.9],[145.8,-5.5],[147.6,-6.1],[147.2,-7],[148,-8.1],[149.3,-9],[150.8,-10.3],[149.8,-10.4],[147.9,-10.1],[146,-8],[144.7,-7.6],[143.3,-8.2],[143.4,-9],[141,-9.1],[139.1,-8.1],[138,-8.4],[138.7,-7.3],[138.6,-6.4],[137.9,-5.4],[135.2,-4.5],[133.7,-4],[133,-4.1],[132,-2.9],[134,-2.7],[132.5,-2.2],[131,-1.4]],
  [[148.3,-5.6],[150,-5.6],[151.6,-4.2],[152.2,-4.3],[152.3,-5.1],[150.5,-6.3]],
  [[144.7,-40.7],[148.3,-40.9],[148,-42.4],[147,-43.6],[145.4,-42.7]],
  [[172.8,-40.5],[173.3,-41.3],[174.3,-41.7],[172.7,-43.4],[171,-45],[170.6,-46],[168.4,-46.6],[166.7,-46],[170.5,-43],[172.2,-40.9]],
  [[172.6,-34.5],[174.3,-35.3],[175.3,-37.2],[177,-37.9],[178.5,-37.7],[177.5,-39.4],[176,-41.3],[175.2,-41.7],[174.7,-41.3],[175.2,-40.5],[173.8,-39.3],[174.6,-38.8],[174.7,-37.4]],
  [[164,-20.1],[167,-22.2],[165.5,-21.7]],
  [[167.2,-15],[167.8,-16.4],[167,-15.8]],
  [[68.9,-48.6],[70.3,-49],[69.6,-49.7],[68.7,-49.7]],
  [[-68.6,-52.6],[-68.2,-53.1],[-67.75,-53.85],[-66.45,-54.45],[-65.05,-54.7],[-65.5,-55.2],[-67,-55.2],[-69,-55.3],[-72,-54.2],[-73.7,-52.8],[-72.5,-53.7],[-71,-53.8],[-70,-52.8]],
  [[-61.2,-51.85],[-60,-51.25],[-59.15,-51.5],[-58.55,-51.1],[-57.75,-51.55],[-58.05,-51.9],[-59.4,-52.2],[-60,-52],[-60.7,-52.3]],
  [[-68.8,63.7],[-65.1,61.9],[-64,63],[-65.1,65.4],[-62,66.9],[-64,67.7],[-68,68.9],[-67.6,69.2],[-71,70.8],[-75,72.4],[-80,72.7],[-80,73.7],[-85,73.8],[-88.4,73.5],[-87,70.3],[-85.5,70],[-78,70],[-78,69.4],[-74,68],[-73,65.5],[-77.9,65.3],[-74,64.7],[-72,63.7]],
  [[-105,69],[-101,69.5],[-102.5,70.5],[-105,72.8],[-107.5,73.2],[-110,73],[-114,73.4],[-118,72.5],[-118.5,71.5],[-117.5,70.5],[-112.5,70.3],[-115,69.3],[-110,68.9]],
  [[-121.5,71.3],[-125.5,71.9],[-124.5,73.5],[-121,74.5],[-117.5,74.2],[-119,72.6]],
  [[-87,76.5],[-78,77],[-77,78.5],[-65,81.5],[-62,82.5],[-75,83.2],[-91,81.5],[-90,78],[-89,76.5]],
  [[-80,74.7],[-80,75.5],[-90,76.5],[-96,76.5],[-92,74.8]],
  [[-105.5,75],[-117,75.5],[-114,76.5],[-107,76]],
  [[-80,63.7],[-85.5,63.2],[-87,64],[-85,66],[-81,64.5]],
  [[-97,71.5],[-100,73],[-97,74],[-92.5,73]],
  [[-95,72.2],[-90,72.5],[-91,73.7],[-95,74]],
  [[-92,78],[-88,80],[-94,81.3],[-96,80],[-95,79]],
  [[-100,76],[-97,75],[-100,75]],
  [[-59.2,47.6],[-55.9,46.9],[-53.5,46.6],[-52.7,47.5],[-53.3,48.5],[-55.5,49.9],[-55.4,51.6],[-57,51],[-58.5,49]],
  [[-64.5,49.9],[-62,49.4],[-63,49.2]],
  [[-128.4,50.8],[-124.9,50],[-123.5,48.5],[-125.7,48.9]],
  [[-132.7,54],[-131,54],[-131.7,52.5],[-133,53.5]],
  [[-84.9,21.9],[-83.2,22.9],[-81.4,23.1],[-80,22.9],[-77.5,21.6],[-75.6,20.8],[-74.2,20.2],[-77.7,19.9],[-77.2,20.7],[-78.5,21],[-79.7,21.8],[-81.8,22.2],[-83.5,22.2]],
  [[-74.4,18.4],[-73,19.9],[-70,19.9],[-68.4,18.6],[-70,18.4],[-71.6,17.7],[-72,18.1]],
  [[-78.3,18.3],[-77,18.5],[-76.2,18],[-77.5,17.9]],
  [[-67.2,18.4],[-65.7,18.4],[-65.9,18],[-67.2,18]],
  [[-78.2,24.9],[-77.6,24.6],[-77.8,23.8],[-78.3,24.3]],
  [[-78.9,26.7],[-77.9,26.9],[-77,26.5],[-77.8,26.5]]
];

var lakes = [
  [[48.9,38.3],[49.2,37.6],[50.1,37.4],[50.8,36.9],[51.9,36.6],[53.8,36.9],[53.9,37.3],[53.7,38.2],[53.8,39],[53.1,39.3],[53.4,40],[52.8,40],[52.9,41],[53.8,40.6],[54.7,41],[54,41.5],[53.7,42.1],[52.5,41.8],[52.4,42.8],[51.3,43.2],[50.9,44],[50.3,44.3],[51.3,44.5],[51.3,45.2],[53,45.3],[53.2,46.2],[53,46.9],[51.2,47],[49.1,46.4],[48.6,45.8],[47.7,45.6],[46.7,44.6],[47.6,43.7],[47.5,43],[48.6,41.8],[49.1,41.3],[49.6,40.6],[50.1,40.5],[49.4,40.2],[49.4,39.4],[48.9,38.9]]
];

// country borders
var borderLines = [
  [[-1.9,43.4],[0.7,42.8],[3,42.5]],
  [[-8.9,41.9],[-7,41.9],[-6.5,41.2],[-7,39.7],[-7.4,37.2]],
  [[2.5,51.1],[4.1,50],[5.8,49.5],[8.1,49],[7.6,47.6],[6,46.3],[7,45.8],[7,44.2],[7.4,43.7]],
  [[3.3,51.35],[4.3,51.4],[6,50.8],[6.1,50],[5.8,49.5]],
  [[6.9,53.5],[7.1,52.3],[6.1,51.8],[6,50.8]],
  [[7.6,47.6],[9.5,47.5],[13,47.5],[13.8,48.7],[12.2,50.3],[14.8,50.9],[14.3,53.8]],
  [[8.6,54.9],[9.9,54.8]],
  [[7,45.8],[8.5,46.3],[10.4,46.6],[9.5,47.5]],
  [[10.4,46.9],[12.4,47],[13.7,46.5],[13.7,45.5]],
  [[13.7,46.5],[16.2,46.9],[17.1,48],[15,49],[13.8,48.7]],
  [[14.8,50.9],[18.8,49.5]],
  [[17.1,48],[18.8,49.5],[22.5,49.1],[22,48.4],[20,48.2],[18.8,47.8],[17.1,48]],
  [[19.7,54.4],[23.5,54],[23.5,51.6],[24,50.7],[22.5,49.1]],
  [[19.7,54.4],[22.7,54.4],[21.2,55.2]],
  [[22,48.4],[21,46.3],[20.2,46.1],[18.8,45.9],[16.5,46.5],[16.2,46.9]],
  [[22,48],[24.9,47.7],[26.6,48.2],[28.2,45.5],[29.6,45.3]],
  [[26.6,48.2],[29,47.9],[30,46.4],[28.2,45.5]],
  [[21,46.3],[21.5,44.8],[22.7,44.2],[24,43.7],[27,44],[28.6,43.7]],
  [[22.4,42.3],[23,41.3],[26.1,41.3],[28,42]],
  [[22.7,44.2],[22.4,42.3]],
  [[20,39.7],[21,40.8],[23,41.3]],
  [[21,40.8],[20.5,41.5],[20.5,42.3],[22.4,42.3]],
  [[13.7,45.5],[15.5,45.5],[16.5,46.5]],
  [[15.7,45],[19,45],[18.8,45.9]],
  [[15.7,45],[17.5,43]],
  [[19,45],[19.4,44],[18.5,42.5]],
  [[19.4,44],[20.5,42.3],[19.4,41.9]],
  [[23.5,51.6],[27,51.5],[31,52.1],[32.7,53.4],[31,55],[28,56.2],[26.5,55.7],[25.7,54.2],[23.5,54]],
  [[31,52.1],[34,52.3],[35.5,50.4],[38,49.9],[39.8,48],[38.2,47.1]],
  [[21,56.1],[26.5,55.7]],
  [[24.4,57.9],[27.5,57.5]],
  [[28,56.2],[27.5,57.5],[27.7,59.4]],
  [[27.9,60.5],[31.5,62.9],[29,66.9],[28.5,69],[29,69.7]],
  [[11.1,58.9],[12.4,61],[12,63.5],[14,64.5],[16,67.5],[20,69],[21,69]],
  [[24,65.9],[23.5,67.9],[21,69]],
  [[21,69],[25.8,69],[28.5,70]],
  [[40,43.4],[43.7,42.7],[46.5,41.8],[48.6,41.8]],
  [[41.5,41.5],[43.5,41.1],[44.8,39.7],[44.4,37.1],[42.4,37.2],[36.7,36.7],[35.9,36]],
  [[43.5,41.1],[46.5,41.1],[46.5,41.8]],
  [[44.8,39.7],[46.5,38.9],[46.5,41.1]],
  [[46.5,38.9],[48.9,38.4]],
  [[44.4,37.1],[46,35.7],[45.5,34],[47.8,31],[48.5,30]],
  [[42.4,37.2],[41,34.4],[38.8,33.4],[35.8,32.7]],
  [[36,34.6],[36.6,34.2],[35.8,33.3],[35.1,33.1]],
  [[35.8,32.7],[35.5,31.5],[35,29.5]],
  [[35,29.4],[37,29.8],[37.5,31],[39,32],[41,31.5],[44.7,29.2],[46.5,29.1],[48,29]],
  [[39,32],[38.8,33.4]],
  [[46.5,29.1],[47.7,30],[48,30]],
  [[43,16.7],[45,17.4],[47,17],[49,18.6],[52,19],[55,20],[55.5,22],[56,24.3]],
  [[52,19],[53,16.6]],
  [[51.6,24],[55,22.7],[56.3,24.9]],
  [[61,36.6],[61.2,35.6],[60.5,33.7],[60.9,31.5],[61.7,31.4],[60.9,29.9],[63,27.2],[61.5,25]],
  [[54,37.3],[57.4,37.9],[61,36.6]],
  [[56,41.3],[56,45],[59,45.5],[61,44.4],[61.1,43.5],[65,43.7],[66.1,43],[66,42],[68,41.1],[71,42.3],[73.5,42.5],[74.5,43],[79.2,42.8],[80.2,42.1]],
  [[52.5,41.8],[56,41.3]],
  [[80.2,42.1],[80.3,45],[82.5,45.2],[82.9,47.2],[85.7,47.2],[85.5,48.5],[87.3,49.2]],
  [[48,46.5],[48.6,49.9],[51.6,51.4],[55,50.7],[58,51],[61.5,51],[61,53.7],[65,54.4],[69,55.3],[71,54.2],[76.5,54.1],[76.9,51],[80,50.8],[83.4,51],[87.3,49.2]],
  [[56,41.3],[57,41.3],[60,42.2],[61.9,41.1],[64.5,38.9],[66.5,37.4]],
  [[61,36.6],[64.5,37.1],[66.5,37.4],[70,37.5],[71.5,37.9],[74.9,37.4]],
  [[71,40.3],[68,39.5],[70.6,39],[73.7,39.5],[75,40.4],[78.5,41],[80.2,42.1]],
  [[74.9,37.4],[73.7,39.5]],
  [[60.9,29.9],[66.3,29.9],[66.5,31.5],[69.3,31.9],[70,33.7],[71.5,36],[74.9,37.4]],
  [[68.2,23.7],[71,24.4],[70,26],[72.8,29],[74.5,31],[75,34],[77.8,35.5]],
  [[74.9,37.4],[77.8,35.5],[78.9,33],[79,31],[81,30.2],[80.1,28.8]],
  [[80.1,28.8],[81,28],[84,27.5],[88.1,26.4],[88.2,27.9],[85,28.6],[81,30.2]],
  [[88.2,27.9],[88.8,28],[92,27.7],[97,28.3]],
  [[88.1,26.4],[89.8,26.7],[92,26.9],[92,27.7]],
  [[97.3,28.2],[94.5,25],[93.3,24],[92.6,22],[92.4,20.7]],
  [[88.9,21.7],[88.1,24.5],[88.1,25.8],[89.8,25.9],[92.4,25],[91.2,24],[92.2,23],[92.4,20.7]],
  [[97.3,28.2],[98.7,27.5],[97.6,24],[99,23],[99.2,22],[101,21.5]],
  [[101,21.5],[102,22.4],[103.9,20.8],[104.7,18.8],[106.5,17],[107.6,15.3],[107.4,14.2]],
  [[102,22.4],[105.4,23],[106.7,22],[108,21.5]],
  [[101,21.5],[100.1,20.4],[97.8,19],[97.4,18.5],[98.9,16.2],[98.2,15],[99.2,12],[99.6,11]],
  [[100.1,20.4],[101,19],[101,17.5],[102.6,17.9],[104.7,17.5],[105.6,14.5]],
  [[102.6,12.2],[102.4,13.6],[105,14.3],[105.6,14.4],[107.4,14.5],[107.5,12.3],[105,10.9],[104.4,10.4]],
  [[100.1,6.5],[101.1,5.7],[102.1,6.2]],
  [[87.8,49.2],[91,46.6],[91,45],[95.4,44.3],[96.4,42.7],[105,41.6],[110,42.6],[111.8,43.7],[111.7,45],[115,45.4],[119.8,46.7],[115.5,47.9],[116,49.8]],
  [[87.8,49.2],[92,50.7],[98,50.2],[98.3,52],[102.2,51.3],[102.9,50.3],[106.9,50.2],[113,49.6],[116.7,49.9]],
  [[116.7,49.9],[119.3,50],[120.8,53.2],[123.6,53.5],[127.5,50],[130.6,48.9],[131,47.7],[135,48.4],[133,45.1],[131,44.9],[131.3,43],[130.6,42.4]],
  [[130.6,42.4],[128,41.9],[126.9,41.8],[124.3,40]],
  [[126.2,37.8],[128.4,38.6]],
  [[-2.2,35.2],[-1.8,33],[-3.6,31.5],[-8.7,28.8],[-8.7,27.3]],
  [[-8.7,27.3],[-4.9,24.97],[1.1,21.1],[1.8,20.2],[3.2,19.8],[3.2,19],[4.3,19.1],[5.7,19.6],[12,23.5],[9.9,26.5],[9.3,30.1],[10.3,33.8]],
  [[8.4,36.9],[8,33],[9.5,30.2],[10.3,33.8]],
  [[-4.9,25],[-6.5,25],[-5.5,15.5],[-12,15]],
  [[3.2,19],[3.5,15.4],[0.3,15],[-0.5,15.1],[-3,13.6],[-5.4,10.3],[-8,10.2],[-8.4,12],[-12,12.4]],
  [[2.7,12.3],[3.6,11.7],[4,13.5],[7,13],[10,13.2],[13.6,13.7]],
  [[-5.4,10.3],[-2.9,10.9],[0,11.1],[1,11],[3,12.5],[0.3,15]],
  [[-2.9,11],[-3.2,5.1]],
  [[0,11.1],[1.2,6.1]],
  [[1,11],[1.7,6.2]],
  [[2.7,6.3],[3.6,10],[3.6,11.7]],
  [[-7.5,4.4],[-8.3,7.5],[-8,10.2]],
  [[-11.4,6.9],[-10.2,8.5],[-8.3,7.5]],
  [[8.5,4.7],[9,6.5],[11.5,6.9],[13.5,10],[14.2,12.7],[14,13.2]],
  [[14,13.2],[13.6,13.7],[15.5,16.9],[15.9,20.4],[15,23],[24,19.5],[24,15.7],[23,13],[22.4,11],[19,9],[15.5,7.5],[15,9.9],[14.2,12.7]],
  [[25,31.6],[25,22],[25,20]],
  [[12,23.5],[15,23]],
  [[25,22],[36.9,22]],
  [[24,9],[27,9.6],[34,9.7]],
  [[38.6,18],[36.5,14.5],[34,10],[34,9.7]],
  [[36.5,14.5],[40,14.5],[43,12.4],[42,11],[43.3,11]],
  [[43.3,11],[47.8,8],[45,5],[42,4],[41,3.9],[41,-0.9]],
  [[39.2,-4.7],[34,-1],[30.5,-1]],
  [[34,-1],[34,4.2],[35.9,4.6],[39.5,3.5],[41,3.9]],
  [[34,9.7],[33.2,8.1],[35,5.5],[35.9,4.6]],
  [[34,4.2],[31,3.7],[29.6,1.2],[30.5,-1],[29,-4.3],[29.4,-6],[30.8,-8.2],[28.8,-8.4],[28.5,-10],[28.5,-12.2],[29.8,-12.2],[29.8,-13.4],[27.5,-12],[24,-11],[22,-11],[22,-9.5],[21.8,-7.3],[17.5,-8.1],[16.5,-5.8],[12.3,-6]],
  [[12.3,-5],[14,-4.5],[16,-2],[17.7,0],[18.5,3.5]],
  [[15.5,7.5],[14.5,5],[16,2.3],[18.5,3.5],[23,4.5],[27.4,5],[24,9],[23,11]],
  [[11.1,-4],[14,-2.4],[14,1.4],[9.7,2.3]],
  [[9.8,2.3],[16,1.8]],
  [[9.5,1],[11.3,1],[11.3,2.2]],
  [[27.4,5],[31,3.7]],
  [[11.8,-17.3],[14,-17.4],[23.3,-17.6],[25.3,-17.8]],
  [[24,-11],[22,-13],[22,-16.1],[23.3,-17.6]],
  [[25.3,-17.8],[28,-16.5],[30.4,-15.6],[33.2,-14],[32.9,-9.4],[30.8,-8.2]],
  [[33,-9.5],[34.5,-11.6],[34.6,-14.5],[35.8,-16],[35.1,-16.8],[33.2,-14]],
  [[34.9,-11.6],[40.4,-10.4]],
  [[30.4,-15.6],[33,-19],[31.9,-22.3]],
  [[25.3,-17.8],[27,-20],[29.4,-22.2],[31.9,-22.3]],
  [[29.4,-22.2],[26.7,-24.6],[25.6,-25.6],[23,-25.3],[20,-24.8]],
  [[21,-18.3],[21,-22],[20,-22],[20,-28.4],[17,-28.5]],
  [[21,-18.3],[25.3,-17.8]],
  [[31.9,-22.3],[32,-26],[32.9,-26.8]],
  [[32,-25.7],[32,-26.9],[31,-27.3],[31,-26],[32,-25.7]],
  [[27,-29.6],[28.5,-28.6],[29.3,-29.5],[28,-30.6],[27,-29.6]],
  [[-141,69.65],[-141,65],[-141,60.2]],
  [[-137.5,58.9],[-135.5,59.8],[-133.4,58.4],[-130,55.9]],
  [[-123,49],[-120,49],[-115,49],[-110,49],[-105,49],[-100,49],[-95.2,49],[-94.6,48.7],[-89.6,48],[-88.4,48.3],[-84.9,46.9],[-83.4,45.8],[-82.5,45.3],[-82.1,43.6],[-83,42],[-82.7,41.7],[-79,42.7],[-79.2,43.5],[-76.8,43.6],[-75,45],[-71.5,45],[-70,46.7],[-69.2,47.4],[-67.8,47.1],[-67.8,45.7],[-67.1,45.1]],
  [[-117.1,32.5],[-114.8,32.5],[-111,31.3],[-108.2,31.3],[-108.2,31.8],[-106.5,31.8],[-104.5,29.6],[-103.1,29],[-101.5,29.8],[-99.5,27.5],[-97.2,25.9]],
  [[-92.2,14.5],[-91,16],[-91,17.8],[-89.1,17.9],[-88.3,18.5]],
  [[-89.1,17.9],[-89.2,15.9]],
  [[-88.9,15.9],[-89.3,14.4],[-90,13.7]],
  [[-89.3,14.4],[-87.8,13.4]],
  [[-87.5,13],[-85,14],[-83.2,15]],
  [[-85.7,11.1],[-83.7,10.9]],
  [[-82.6,9.6],[-82.9,8.1]],
  [[-71.3,11.8],[-72.4,11],[-72.9,9],[-72.5,7.4],[-70,7],[-67.5,6.2],[-67.8,3.3],[-67.3,1.8]],
  [[-67,1.7],[-69.8,1.7],[-69.4,-1.1],[-70,-4.2]],
  [[-70,-4.2],[-72.9,-2.4],[-75.2,-0.1]],
  [[-75.2,-0.1],[-78.9,1.4]],
  [[-75.2,-0.1],[-75.4,-1.6],[-78.4,-3.4],[-79,-5],[-80.3,-3.4]],
  [[-70,-4.2],[-73,-5],[-74,-7.3],[-73,-9.4],[-70.5,-9.5],[-70.6,-11],[-69.5,-11]],
  [[-69.5,-11],[-68.7,-12.5],[-69.5,-17.5],[-70.4,-18.3]],
  [[-69.5,-11],[-65.4,-9.8],[-65.3,-11.5],[-60.5,-13.8],[-60,-16.3],[-58,-16.5],[-58,-20]],
  [[-58.2,-20.2],[-62.3,-20.5],[-62.7,-22.2],[-64.4,-22.8],[-66.3,-21.8],[-67.1,-22.7]],
  [[-67.1,-22.7],[-68.4,-19.4],[-69,-19],[-69.5,-17.5]],
  [[-67.1,-22.7],[-68.4,-24.5],[-68.4,-26.2],[-70,-30],[-70.5,-33],[-70,-34.3],[-71,-37],[-71.7,-39.5],[-71.7,-42],[-71.7,-44.2],[-71.5,-46],[-72,-48],[-73,-50],[-72.3,-51.5],[-71.9,-52],[-68.4,-52.3]],
  [[-62.7,-22.2],[-58,-25],[-58.6,-27.2],[-54.6,-25.6]],
  [[-58,-20],[-58,-22],[-55.7,-22.4],[-54.3,-24],[-54.6,-25.6]],
  [[-54.6,-25.6],[-53.8,-27.1],[-57.6,-30.2],[-58.4,-34]],
  [[-57.6,-30.2],[-55.7,-30.9],[-53.5,-33.7]],
  [[-67,1.7],[-65.5,0.8],[-64,1.9],[-62.7,3.7],[-61,4.5],[-60.7,5.2]],
  [[-60.7,8.5],[-61,6.7],[-60.7,5.2],[-59.9,4],[-59.7,1.8],[-56.5,1.9]],
  [[-57,5.9],[-58,4],[-56.5,1.9],[-54.5,2.3],[-54,5.8]],
  [[-54.5,2.3],[-52.6,2.5],[-51.6,4.2]],
  [[141,-2.6],[141,-9.1]],
  [[109.6,2],[111,1.2],[114.5,1.5],[115.8,4],[117.6,4.2]],
  [[-7.4,55],[-7.3,54.2],[-6,54]]
];

var width = 1358, height = 736;

var svg = d3.select('#chart').append('svg')
  .attr('width', width)
  .attr('height', height)
  .style('display', 'block');

svg.append('text').attr('x', 11).attr('y', 52)
  .attr('font-size', 53.3).attr('font-weight', 700).attr('fill', '#1e293b')
  .text(titleText);
svg.append('text').attr('x', 11).attr('y', 115)
  .attr('font-size', 33.3).attr('fill', '#475569')
  .text(subtitleText);
svg.append('text').attr('x', 11).attr('y', 718)
  .attr('font-size', 29.3).attr('fill', '#64748b')
  .text(sourceText);

/* Projection: plain equirectangular, centred on the Pacific */
var pxPerDeg = 3.83;
var projection = d3.geoEquirectangular()
  .scale(pxPerDeg * 180 / Math.PI)
  .rotate([-161, 0])
  .translate([688, 442])
  .precision(0.5);
var path = d3.geoPath(projection);

svg.append('defs').append('clipPath').attr('id', 'map-clip')
  .append('rect').attr('x', 30).attr('y', 140).attr('width', 1316).attr('height', 530);

// d3 wants rings clockwise on the sphere, flip the ones that come out inverted
function toPolygon(ring) {
  var closed = ring.concat([ring[0]]);
  var poly = { type: 'Polygon', coordinates: [closed] };
  if (d3.geoArea(poly) > 2 * Math.PI) poly.coordinates = [closed.slice().reverse()];
  return poly;
}

var land = [africa, madagascar, eurasia, northAmerica, southAmerica, australia, greenland].concat(islands).map(toPolygon);

var map = svg.append('g').attr('clip-path', 'url(#map-clip)');

map.selectAll('path.land')
  .data(land)
  .enter().append('path')
  .attr('class', 'land')
  .attr('d', path)
  .attr('fill', '#f3f4f3')
  .attr('stroke', '#9ca3af')
  .attr('stroke-width', 1.1)
  .attr('stroke-linejoin', 'round');

map.selectAll('path.lake')
  .data(lakes.map(toPolygon))
  .enter().append('path')
  .attr('class', 'lake')
  .attr('d', path)
  .attr('fill', '#fff')
  .attr('stroke', '#9ca3af')
  .attr('stroke-width', 1.1);

map.append('path')
  .datum({ type: 'MultiLineString', coordinates: borderLines })
  .attr('d', path)
  .attr('fill', 'none')
  .attr('stroke', '#9ca3af')
  .attr('stroke-width', 1.1)
  .attr('stroke-linejoin', 'round');

/* Flows: quadratic arcs bending to the left of the direction of travel */
var nodeByName = {};
nodes.forEach(function(d) {
  var p = projection([d.lon, d.lat]);
  nodeByName[d.name] = { name: d.name, x: p[0], y: p[1], exports: false };
});
flows.forEach(function(f) { nodeByName[f[0]].exports = true; });

var bend = 0.21;
function arc(f) {
  var a = nodeByName[f[0]], b = nodeByName[f[1]];
  var dx = b.x - a.x, dy = b.y - a.y;
  var cx = (a.x + b.x) / 2 + bend * dy;
  var cy = (a.y + b.y) / 2 - bend * dx;
  return 'M' + a.x + ',' + a.y + 'Q' + cx + ',' + cy + ' ' + b.x + ',' + b.y;
}

var widthScale = d3.scaleLinear().domain([0, 186]).range([3, 17]);

svg.append('g').selectAll('path')
  .data(flows)
  .enter().append('path')
  .attr('d', arc)
  .attr('fill', 'none')
  .attr('stroke', '#2563eb')
  .attr('stroke-opacity', 0.55)
  .attr('stroke-width', function(d) { return widthScale(d[2]); });

/* Nodes: exporters are big, import-only places small. No dot in the picture for Japan */
var dots = nodes.map(function(d) { return nodeByName[d.name]; })
  .filter(function(d) { return d.name !== 'Japan'; });

svg.append('g').selectAll('circle')
  .data(dots)
  .enter().append('circle')
  .attr('cx', function(d) { return d.x; })
  .attr('cy', function(d) { return d.y; })
  .attr('r', function(d) { return d.exports ? 8.2 : 4.1; })
  .attr('fill', function(d) { return d.exports ? '#2563eb' : '#1e40af'; })
  .attr('stroke', '#fff')
  .attr('stroke-width', function(d) { return d.exports ? 2.4 : 1.4; });

/* Labels */
var labelPos = {
  'China-Korea': [367, 283],
  'Chile-Korea': [621, 378],
  'Argentina-China': [528, 423],
  'Chile-China': [544, 476]
};

var labels = svg.append('g').selectAll('text')
  .data(labelledFlows)
  .enter().append('text')
  .attr('x', function(d) { return labelPos[d][0]; })
  .attr('y', function(d) { return labelPos[d][1]; })
  .attr('font-size', 30.5)
  .attr('font-weight', 700)
  .attr('fill', '#1e40af')
  .style('white-space', 'pre');

function flowOf(key) {
  var parts = key.split('-');
  return flows.filter(function(x) { return x[0] === parts[0] && x[1] === parts[1]; })[0];
}

// the arrow in the picture is longer and thinner than the bold glyph, so it gets its own size
labels.each(function(d) {
  var f = flowOf(d);
  var t = d3.select(this);
  t.append('tspan').text(f[0] + ' ');
  t.append('tspan').attr('dx', -4.5).attr('dy', 2).attr('font-size', 39.5).attr('font-weight', 400).text('\u2192');
  t.append('tspan').attr('dx', -4.5).attr('dy', -2).text(' ' + f[1] + '  ' + f[2] + ' kt');
});
</script>
</body>
</html>
